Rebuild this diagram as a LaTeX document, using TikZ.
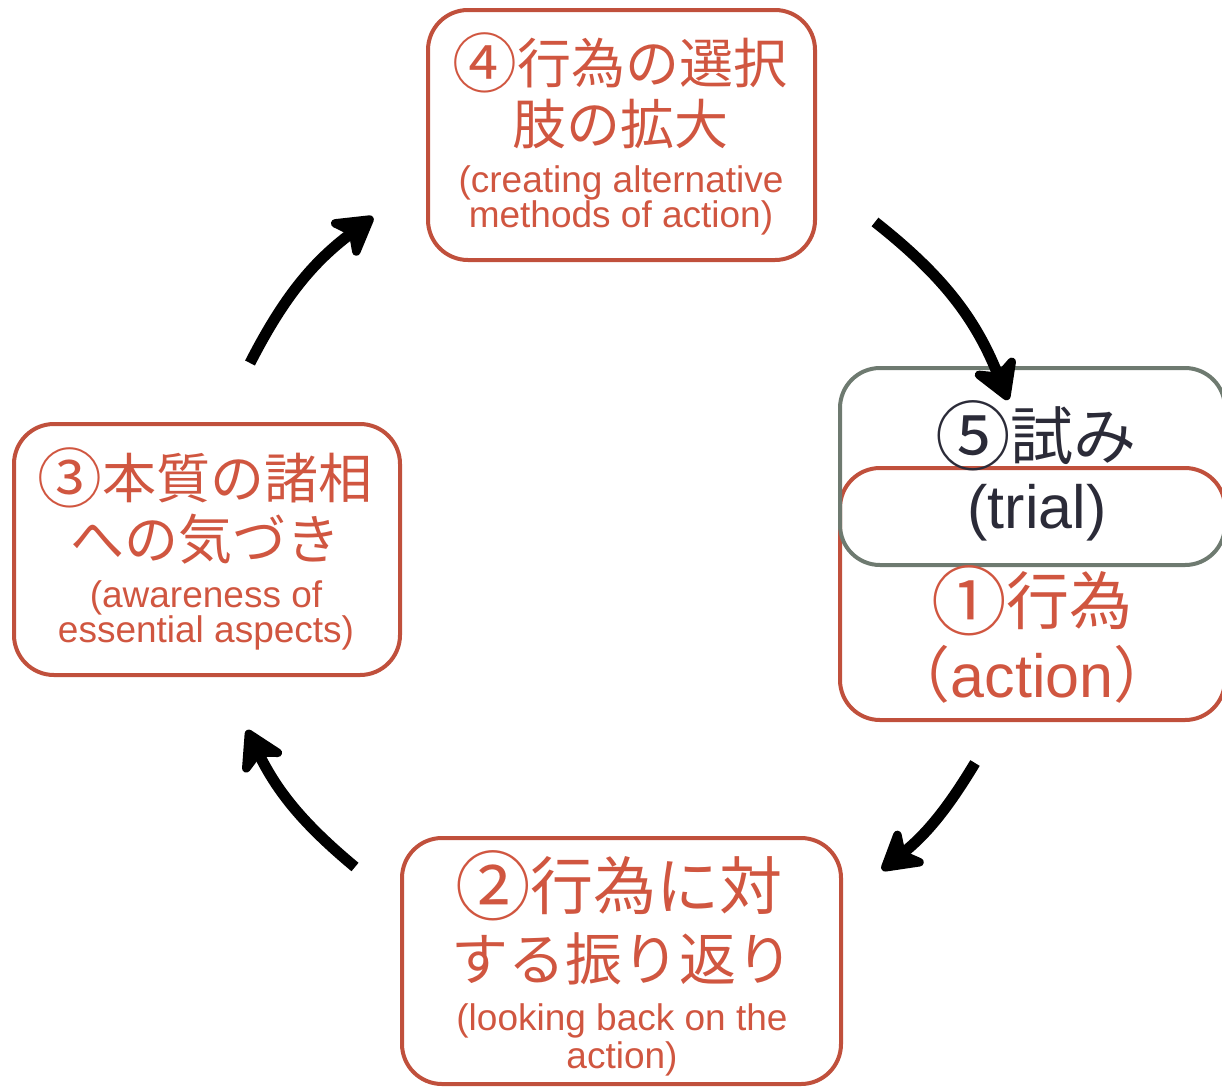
\documentclass[tikz,border=0pt]{standalone}
\usepackage{graphicx}
\usepackage{fontspec}
\setmainfont{Liberation Sans}
\newfontfamily\jp{Noto Sans CJK JP}
\usetikzlibrary{arrows.meta}
\definecolor{boxred}{RGB}{192,80,60}
\definecolor{txtred}{RGB}{208,86,64}
\definecolor{boxgray}{RGB}{110,122,112}
\definecolor{txtdark}{RGB}{43,43,56}
\newcommand{\fs}[1]{\fontsize{#1}{#1}\selectfont}
\newcommand{\cnum}[1]{\raisebox{-0.08em}{\scalebox{1.2}{#1}}}
\begin{document}
\begin{tikzpicture}[x=1pt,y=1pt,
  rbox/.style={draw=boxred, line width=4pt, rounded corners=40pt, rectangle, inner sep=0pt},
  gbox/.style={draw=boxgray, line width=4pt, rounded corners=40pt, rectangle, inner sep=0pt},
  jt/.style={anchor=base, inner sep=0pt, text=txtred, font=\jp},
  et/.style={anchor=base, inner sep=0pt, text=txtred, font=\fs{37}},
  cyc/.style={line width=11pt, -{Stealth[length=48pt,width=56pt,inset=14pt,round]}}
]
\useasboundingbox (0,0) rectangle (1222,-1087);
\clip (0,0) rectangle (1222,-1087);
% boxes
\node[rbox, minimum width=387pt, minimum height=250pt] (b4) at (621.5,-135) {};
\node[rbox, minimum width=386pt, minimum height=251pt] (b3) at (207,-549.5) {};
\node[rbox, minimum width=439pt, minimum height=246pt] (b2) at (621.5,-961) {};
\node[rbox, minimum width=385pt, minimum height=252pt] (b1) at (1032.5,-594) {};
\node[gbox, minimum width=385pt, minimum height=197pt] (b5) at (1032.5,-466.5) {};
% box 4 text
\node[jt, font=\jp\fs{54}] (t4a) at (620,-83) {\cnum{④}行為の選択};
\node[jt, font=\jp\fs{54}] (t4b) at (620,-144) {肢の拡大};
\node[et] (t4c) at (621,-192) {(creating alternative};
\node[et] (t4d) at (621,-227) {methods of action)};
% box 3 text
\node[jt, font=\jp\fs{54}] (t3a) at (205,-498) {\cnum{③}本質の諸相};
\node[jt, font=\jp\fs{54}] (t3b) at (205,-559) {への気づき};
\node[et] (t3c) at (206,-607) {(awareness of};
\node[et] (t3d) at (206,-642) {essential aspects)};
% box 2 text
\node[jt, font=\jp\fs{63}] (t2a) at (619,-909) {\cnum{②}行為に対};
\node[jt, font=\jp\fs{57}] (t2b) at (622,-980) {する振り返り};
\node[et] (t2c) at (622,-1030) {(looking back on the};
\node[et] (t2d) at (622,-1068) {action)};
% box 5 text
\node[jt, font=\jp\fs{63}, text=txtdark] (t5a) at (1036,-459) {\cnum{⑤}試み};
\node[anchor=base, inner sep=0pt, text=txtdark, font=\fs{61}] (t5b) at (1037,-528) {(trial)};
% box 1 text
\node[jt, font=\jp\fs{63}] (t1a) at (1032,-624) {\cnum{①}行為};
\node[anchor=base, inner sep=0pt, text=txtred, font=\fs{61}] (t1b) at (1032,-697) {{\jp （}action{\jp ）}};
% arrow end points
\coordinate (a1s) at (875,-222);
\coordinate (a1e) at (1008,-400);
\coordinate (a2s) at (975,-763);
\coordinate (a2e) at (882,-870);
\coordinate (a3s) at (355,-867);
\coordinate (a3e) at (247,-730);
\coordinate (a4s) at (250,-363);
\coordinate (a4e) at (373,-217);
\draw[cyc] (a1s) to[bend left=15] (a1e);
\draw[cyc] (a2s) to[bend left=10] (a2e);
\draw[cyc] (a3s) to[bend left=12] (a3e);
\draw[cyc] (a4s) to[bend left=13] (a4e);
\end{tikzpicture}
\end{document}
